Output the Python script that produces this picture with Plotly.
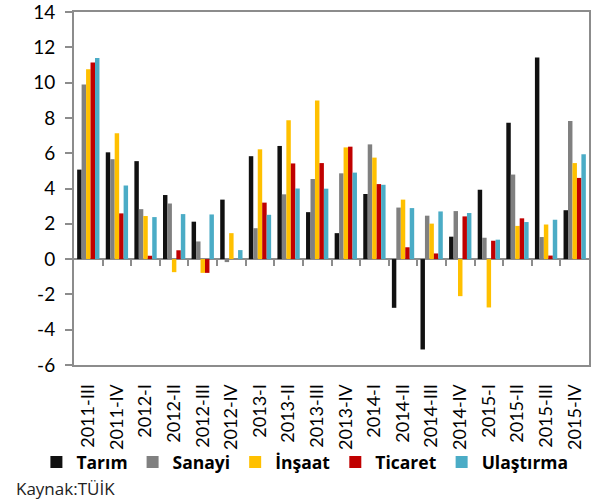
import plotly.graph_objects as go

categories = ["2011-III", "2011-IV", "2012-I", "2012-II", "2012-III", "2012-IV",
              "2013-I", "2013-II", "2013-III", "2013-IV", "2014-I", "2014-II",
              "2014-III", "2014-IV", "2015-I", "2015-II", "2015-III", "2015-IV"]

tarim     = [5.07, 6.05, 5.55, 3.63, 2.12, 3.37, 5.83, 6.41, 2.66, 1.47, 3.69, -2.76, -5.12, 1.27, 3.93, 7.73, 11.42, 2.77]
sanayi    = [9.89, 5.66, 2.83, 3.15, 1.00, -0.17, 1.75, 3.67, 4.54, 4.86, 6.50, 2.92, 2.46, 2.72, 1.21, 4.79, 1.25, 7.82]
insaat    = [10.76, 7.13, 2.44, -0.74, -0.78, 1.47, 6.22, 7.86, 8.98, 6.33, 5.75, 3.37, 2.01, -2.10, -2.74, 1.88, 1.96, 5.44]
ticaret   = [11.14, 2.59, 0.19, 0.50, -0.78, 0.0, 3.20, 5.42, 5.44, 6.37, 4.25, 0.67, 0.32, 2.42, 1.04, 2.31, 0.20, 4.60]
ulastirma = [11.40, 4.17, 2.38, 2.55, 2.53, 0.51, 2.51, 4.00, 3.99, 4.90, 4.21, 2.89, 2.70, 2.61, 1.10, 2.10, 2.23, 5.94]

series_names = ["Tarım", "Sanayi", "İnşaat", "Ticaret", "Ulaştırma"]
series_values = [tarim, sanayi, insaat, ticaret, ulastirma]
series_colors = ["#111111", "#808080", "#FFC000", "#C00000", "#4BACC6"]

y_ticks = [-6, -4, -2, 0, 2, 4, 6, 8, 10, 12, 14]
y_tick_labels = ["-6", "-4", "-2", "0", "2", "4", "6", "8", "10", "12", "14"]

FONT = "Lato"
FONT2 = "Open Sans"
GREY = "#8C8C8C"

fig = go.Figure()
for name, vals, col in zip(series_names, series_values, series_colors):
    fig.add_trace(go.Bar(x=categories, y=vals, name=name, marker=dict(color=col, line=dict(width=0))))

# helper axis to draw category boundary ticks on the zero line
fig.add_trace(go.Scatter(x=[], y=[], xaxis="x2", yaxis="y", showlegend=False, hoverinfo="skip"))

y_min, y_max = y_ticks[0], y_ticks[-1]
zero_pos = (0 - y_min) / (y_max - y_min)
boundaries = [i + 0.5 for i in range(len(categories) - 1)]

fig.update_layout(
    width=600, height=504,
    margin=dict(l=74, r=11, t=12, b=139, autoexpand=False),
    paper_bgcolor="white", plot_bgcolor="white",
    barmode="group", bargap=0.22, bargroupgap=0,
    font=dict(family=FONT, color="#000000"),
    xaxis=dict(
        type="category", showgrid=False, showline=True, linecolor=GREY, linewidth=2,
        mirror=True, ticks="", tickangle=-90, tickfont=dict(size=18, family=FONT),
        ticklabelstandoff=10, zeroline=False, automargin=False,
    ),
    xaxis2=dict(
        overlaying="x", anchor="free", position=zero_pos, side="bottom",
        range=[-0.5, len(categories) - 0.5], tickvals=boundaries, ticks="outside",
        ticklen=6, tickwidth=2, tickcolor=GREY, showticklabels=False,
        showline=False, showgrid=False, zeroline=False, automargin=False,
    ),
    yaxis=dict(
        range=[y_min, y_max], tickvals=y_ticks, ticktext=y_tick_labels,
        showgrid=False, showline=True,
        linecolor=GREY, linewidth=2, mirror=True, ticks="outside", ticklen=7,
        tickwidth=2, tickcolor=GREY, tickfont=dict(size=19, family=FONT),
        zeroline=True, zerolinecolor=GREY, zerolinewidth=2, ticklabelstandoff=6,
        automargin=False, ticklabeloverflow="allow",
    ),
    legend=dict(
        orientation="h", x=-0.073, xanchor="left", y=-0.275, yanchor="middle",
        font=dict(size=17.5, family=FONT2, color="#000000", weight="bold"),
        itemwidth=30, tracegroupgap=0, bgcolor="rgba(0,0,0,0)",
    ),
    annotations=[dict(
        text="Kaynak:TÜİK", xref="paper", yref="paper", x=-0.117, y=-0.35,
        xanchor="left", yanchor="middle", showarrow=False,
        font=dict(size=17, family=FONT2, color="#222222"),
    )],
)

fig.write_html("out.html", config={"displayModeBar": False},
               post_script="document.body.style.margin='0';")
